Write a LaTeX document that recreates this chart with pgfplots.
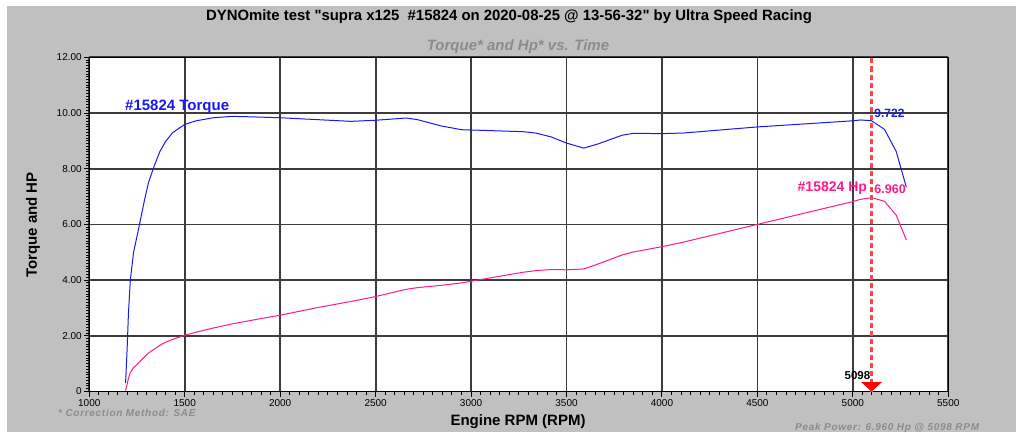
\documentclass[border=0pt]{standalone}
\usepackage{pgfplots}
\pgfplotsset{compat=1.18}
\usepackage{pgfplotstable}
\usepackage{fontspec}
\setmainfont{Liberation Sans}[Ligatures=TeXOff]
\newfontfamily\notefont{Liberation Sans}[LetterSpace=7.0]
\definecolor{bggray}{RGB}{192,192,192}
\definecolor{tqblue}{RGB}{25,25,245}
\definecolor{hppink}{RGB}{255,25,140}
\definecolor{peakred}{RGB}{255,70,70}
\definecolor{notegray}{RGB}{140,140,140}
\definecolor{gridc}{RGB}{60,60,60}

\pgfplotstableread{
rpm tq hp
1190 0.30 0.03
1198 1.50 0.25
1205 2.80 0.47
1215 4.00 0.68
1232 5.00 0.86
1260 5.90 1.04
1290 6.90 1.25
1310 7.50 1.38
1340 8.10 1.52
1370 8.62 1.66
1400 8.98 1.77
1436 9.29 1.87
1500 9.59 2.02
1560 9.72 2.13
1650 9.83 2.28
1750 9.88 2.43
1860 9.86 2.57
2000 9.83 2.74
2200 9.76 3.02
2370 9.70 3.23
2500 9.74 3.41
2660 9.82 3.67
2720 9.76 3.73
2840 9.54 3.81
2950 9.40 3.90
3000 9.39 3.96
3270 9.33 4.28
3340 9.28 4.34
3420 9.14 4.38
3500 8.92 4.37
3590 8.74 4.40
3670 8.90 4.59
3790 9.20 4.90
3850 9.27 5.01
4000 9.26 5.20
4110 9.28 5.36
4500 9.50 6.00
5000 9.72 6.82
5040 9.75 6.90
5098 9.722 6.960
5166 9.41 6.83
5227 8.62 6.33
5280 7.34 5.44
}\dyno

\pgfplotstableread{
rpm v
5098 0
5098 12
}\peakline

\begin{document}
\begin{tikzpicture}[x=1pt,y=1pt]
\useasboundingbox (0,0) rectangle (1016,432);
\fill[bggray] (7,0) rectangle (1016,426);
\begin{axis}[
  at={(89.3pt,40.5pt)}, anchor=south west,
  scale only axis, width=859pt, height=334.2pt,
  xmin=1000, xmax=5500, ymin=0, ymax=12,
  axis background/.style={fill=white},
  axis line style={black, line width=1.2pt},
  xtick={1000,1500,...,5500},
  xticklabels={1000,1500,2000,2500,3000,3500,4000,4500,5000,5500},
  ytick={0,2,4,6,8,10,12},
  yticklabels={0,2.00,4.00,6.00,8.00,10.00,12.00},
  minor x tick num=9, minor y tick num=19,
  xtick pos=bottom, ytick pos=left,
  tick align=outside,
  major tick length=5pt, minor tick length=3pt,
  every tick/.style={black, line width=1pt},
  grid=major,
  major grid style={gridc, line width=1.8pt},
  /pgf/number format/assume math mode=true,
  ticklabel style={font=\fontsize{10}{12}\selectfont, text=black},
  xticklabel style={yshift=1pt},
  yticklabel style={xshift=1pt},
  clip=true,
]
\addplot[tqblue, line width=1pt] table[x=rpm, y=tq] {\dyno};
\addplot[hppink, line width=1pt] table[x=rpm, y=hp] {\dyno};
\addplot[color=peakred, line width=2.2pt, dash pattern=on 5pt off 3pt, mark=none] table[x=rpm, y=v] {\peakline};
\addplot[fill=red, draw=none] coordinates {(5044,0.335) (5152,0.335) (5098,0)} -- cycle;
\node[anchor=west, text=tqblue, font=\fontsize{15}{17}\selectfont\bfseries, inner sep=0pt] at (axis cs:1187,10.23) {\#15824 Torque};
\node[anchor=west, text=tqblue, font=\fontsize{12}{14}\selectfont\bfseries, inner sep=0pt] at (axis cs:5112,10.0) {9.722};
\node[anchor=east, text=hppink, font=\fontsize{14}{16}\selectfont\bfseries, inner sep=0pt] at (axis cs:5075,7.31) {\#15824 Hp};
\node[anchor=west, text=hppink, font=\fontsize{12.5}{14}\selectfont\bfseries, inner sep=0pt] at (axis cs:5112,7.27) {6.960};
\node[anchor=east, text=black, font=\fontsize{11.5}{13}\selectfont\bfseries, inner sep=0pt] at (axis cs:5092,0.57) {5098};
\end{axis}
\node[font=\fontsize{14.9}{17}\selectfont\bfseries] at (509,415) {DYNOmite test "supra x125\ \ \#15824 on 2020-08-25 @ 13-56-32" by Ultra Speed Racing};
\node[text=notegray, font=\fontsize{15}{18}\selectfont\bfseries\itshape] at (518,385) {Torque* and Hp* vs. Time};
\node[rotate=90, font=\fontsize{15}{18}\selectfont\bfseries] at (33,207) {Torque and HP};
\node[font=\fontsize{15}{18}\selectfont\bfseries] at (518,10.5) {Engine RPM (RPM)};
\node[anchor=west, text=notegray, font=\notefont\fontsize{10}{12}\selectfont\bfseries\itshape, inner sep=0pt] at (58,19) {* Correction Method: SAE};
\node[anchor=west, text=notegray, font=\notefont\fontsize{10}{12}\selectfont\bfseries\itshape, inner sep=0pt] at (795,4) {Peak Power: 6.960 Hp @ 5098 RPM};
\end{tikzpicture}
\end{document}
